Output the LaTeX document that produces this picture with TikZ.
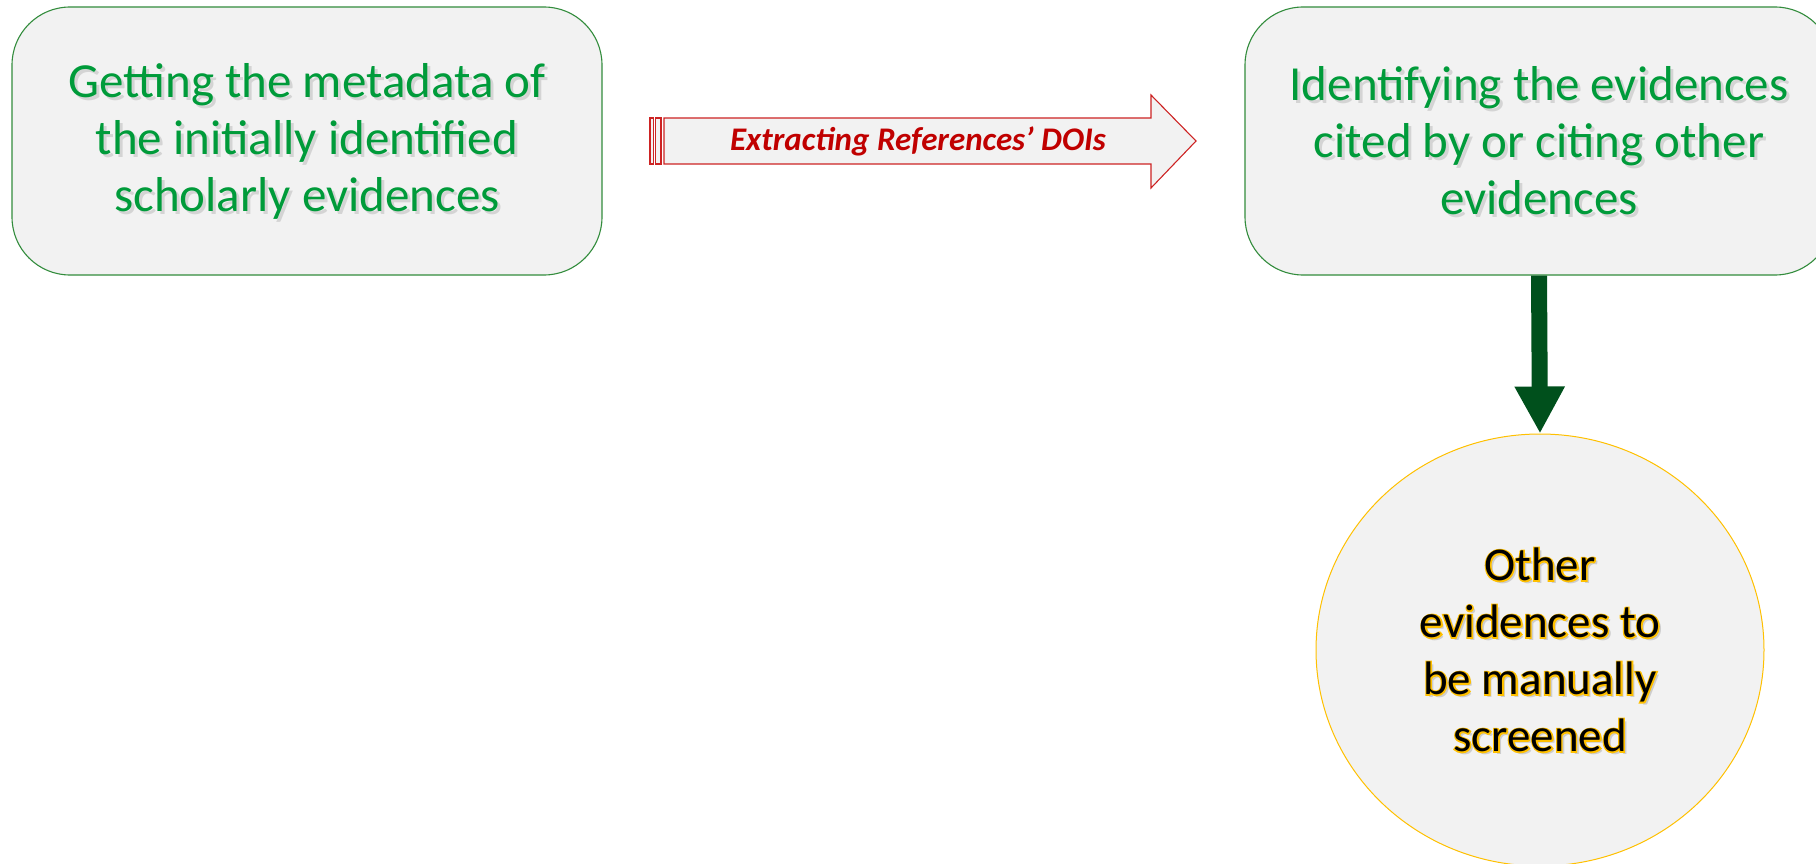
\documentclass[tikz,border=0pt]{standalone}
\usepackage{fontspec}
\setmainfont{Carlito}
\usetikzlibrary{arrows.meta,shapes.geometric,calc}

\definecolor{panel}{HTML}{F2F2F2}
\definecolor{boxline}{RGB}{50,140,60}
\definecolor{leaf}{RGB}{0,155,58}
\definecolor{forest}{RGB}{0,80,28}
\definecolor{brick}{RGB}{192,0,0}
\definecolor{redline}{RGB}{205,35,35}
\definecolor{amber}{HTML}{FFC000}

\tikzset{
  stagebox/.style={draw=boxline, line width=1.1pt, fill=panel,
    rounded corners=58pt, minimum width=590pt, minimum height=268pt},
  bigtext/.style={align=center, font=\fontsize{49}{57}\selectfont, inner sep=0pt},
  ovaltext/.style={align=center, font=\fontsize{47}{57}\selectfont, inner sep=0pt},
  greentext/.style={bigtext, text=leaf},
  softshadow/.style={bigtext, text=black, opacity=0.12},
  oval/.style={ellipse, draw=amber, line width=1pt, fill=panel,
    minimum width=448pt, minimum height=432pt, inner sep=0pt},
  flowline/.style={draw=redline, line width=1.1pt, fill=panel},
  doitext/.style={font=\fontsize{33}{40}\selectfont\bfseries\itshape, text=brick},
  downflow/.style={forest, line width=16pt,
    -{Triangle[width=47pt,length=47pt]}},
}

% outlined glyphs: fill and stroke the text in the current colour
\newcommand\strokeon{\special{pdf:literal direct 2 Tr 2.6 w}}
\newcommand\strokeoff{\special{pdf:literal direct 0 Tr 1 w}}

% text with a soft drop shadow
\newcommand\shadedlabel[3]{%
  \node[softshadow] at ($(#1)+(3,3)$) {#3};
  \node[greentext] (#2) at (#1) {#3};
}
% dark text with an amber outline
\newcommand\haloedlabel[3]{%
  \node[ovaltext, text=black, opacity=0.15] at ($(#1)+(3,3)$) {#3};
  \node[ovaltext, text=amber] at (#1) {\strokeon#3\strokeoff};
  \node[ovaltext, text=black] (#2) at (#1) {#3};
}

\begin{document}
\begin{tikzpicture}[x=1pt,y=-1pt]
\useasboundingbox (0,0) rectangle (1816,864);

% process boxes
\node[stagebox] (meta) at (307,141) {};
\node[stagebox, minimum width=588pt] (ident) at (1539,141) {};
\shadedlabel{meta.center}{metatext}{Getting the metadata of\\the initially identified\\scholarly evidences}
\shadedlabel{ident.center}{identtext}{Identifying the evidences\\cited by or citing other\\evidences}

% result of the screening step
\node[oval] (other) at (1540,650) {};
\haloedlabel{other.center}{othertext}{Other\\evidences to\\be manually\\screened}

% striped block arrow between the two boxes
\coordinate (tailA) at (650,118);
\draw[flowline] (tailA) rectangle (653.5,164);
\draw[flowline] (655.5,118) rectangle (661,164);
\draw[flowline] (664,118) -- (1151,118) -- (1151,95) -- (1196,141)
  -- (1151,188) -- (1151,164) -- (664,164) -- cycle;
\node[doitext] (doi) at (918,141) {Extracting References’ DOIs};

% downward arrow to the screening set
\draw[downflow] (ident.south) -- (other.north);
\end{tikzpicture}
\end{document}
